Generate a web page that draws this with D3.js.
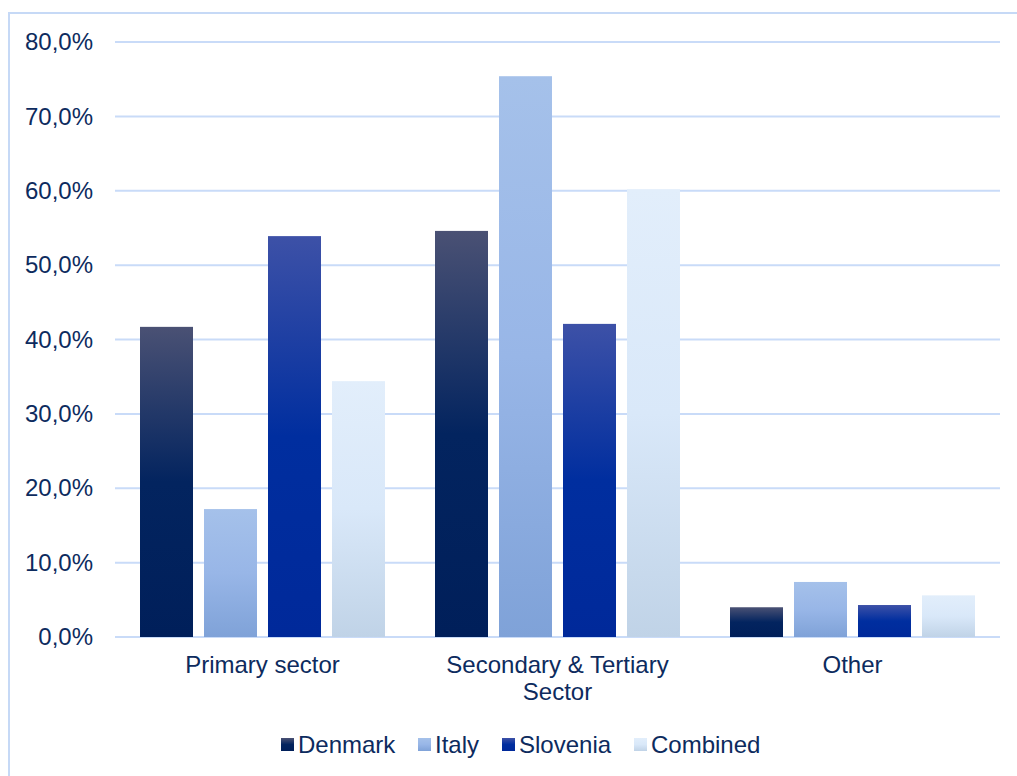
<!DOCTYPE html>
<html>
<head>
<meta charset="utf-8">
<script src="https://cdn.jsdelivr.net/npm/d3@7"></script>
<style>
  body { margin: 0; background: #fff; }
  svg { display: block; font-family: "Liberation Sans", Arial, sans-serif; }
</style>
</head>
<body>
<div id="chart"></div>
<script>
// chart data
var categories = ["Primary sector", "Secondary & Tertiary Sector", "Other"];
var seriesNames = ["Denmark", "Italy", "Slovenia", "Combined"];
var denmark = [41.7, 54.6, 4.0];
var italy = [17.2, 75.4, 7.4];
var slovenia = [53.9, 42.1, 4.3];
var combined = [34.4, 60.2, 5.6];
var yTicks = [0, 10, 20, 30, 40, 50, 60, 70, 80];

var seriesValues = [denmark, italy, slovenia, combined];

// gradient stops for each series (top, middle, bottom)
var gradients = [
  ["#4a5174", "#03245f", "#001f5a"],
  ["#a5c1ea", "#98b6e7", "#7fa2d8"],
  ["#3d51a7", "#002e9f", "#00299a"],
  ["#e2eefb", "#d9e8f9", "#c0d3e7"]
];

var W = 1017, H = 776;
var margin = {top: 42, left: 115, right: 17, bottom: 139};
var width = W - margin.left - margin.right,
    height = H - margin.top - margin.bottom;
var fontSize = "24px";
var textColor = "#0d2b5e";

var svg = d3.select("#chart").append("svg")
    .attr("width", W)
    .attr("height", H);

// gradients
var defs = svg.append("defs");
gradients.forEach(function(g, i) {
  var lg = defs.append("linearGradient")
      .attr("id", "grad" + i)
      .attr("x1", 0).attr("y1", 0).attr("x2", 0).attr("y2", 1);
  lg.append("stop").attr("offset", "0%").attr("stop-color", g[0]);
  lg.append("stop").attr("offset", "50%").attr("stop-color", g[1]);
  lg.append("stop").attr("offset", "100%").attr("stop-color", g[2]);
});

// outer frame
svg.append("rect")
    .attr("x", 9).attr("y", 13)
    .attr("width", W + 10).attr("height", H + 10)
    .attr("fill", "none")
    .attr("stroke", "#c6d9f6")
    .attr("stroke-width", 2);

var g = svg.append("g")
    .attr("transform", "translate(" + margin.left + "," + margin.top + ")");

var x0 = d3.scaleBand()
    .domain(categories)
    .range([0, width]);

// inner scale: 53px bars, 11px gaps
var x1 = d3.scaleBand()
    .domain(seriesNames)
    .range([0, 4 * 64 - 11])
    .paddingInner(11 / 64);

var y = d3.scaleLinear()
    .domain([0, 80])
    .range([height, 0]);

var locale = d3.formatLocale({decimal: ",", thousands: ".", grouping: [3], currency: ["", "€"]});
var fmt = locale.format(".1f");

// gridlines
g.selectAll(".grid")
    .data(yTicks)
  .enter().append("line")
    .attr("x1", 0).attr("x2", width)
    .attr("y1", function(d) { return y(d); })
    .attr("y2", function(d) { return y(d); })
    .attr("stroke", "#c9dbf8")
    .attr("stroke-width", 2);

// y axis labels
var yAxis = g.append("g")
    .call(d3.axisLeft(y).tickValues(yTicks).tickSize(0).tickPadding(22)
      .tickFormat(function(d) { return fmt(d) + "%"; }));
yAxis.select(".domain").remove();
yAxis.selectAll("text")
    .attr("fill", textColor)
    .style("font-size", fontSize)
    .style("font-family", "'Liberation Sans', Arial, sans-serif");

// bars
var groupOffset = (x0.bandwidth() - x1.range()[1]) / 2;
var groups = g.selectAll(".group")
    .data(categories)
  .enter().append("g")
    .attr("transform", function(d) { return "translate(" + (x0(d) + groupOffset) + ",0)"; });

groups.selectAll("rect")
    .data(function(c, ci) {
      return seriesNames.map(function(s, si) { return {s: s, si: si, v: seriesValues[si][ci]}; });
    })
  .enter().append("rect")
    .attr("x", function(d) { return x1(d.s); })
    .attr("width", x1.bandwidth())
    .attr("y", function(d) { return y(d.v); })
    .attr("height", function(d) { return height - y(d.v); })
    .attr("fill", function(d) { return "url(#grad" + d.si + ")"; });

// category labels
var catLines = {
  "Primary sector": ["Primary sector"],
  "Secondary & Tertiary Sector": ["Secondary & Tertiary", "Sector"],
  "Other": ["Other"]
};
categories.forEach(function(c) {
  var cx = x0(c) + x0.bandwidth() / 2;
  var t = g.append("text")
      .attr("x", cx)
      .attr("y", height + 36)
      .attr("text-anchor", "middle")
      .attr("fill", textColor)
      .style("font-size", fontSize);
  catLines[c].forEach(function(line, i) {
    t.append("tspan")
        .attr("x", cx)
        .attr("dy", i === 0 ? 0 : 27)
        .text(line);
  });
});

// legend
var legendX = [281, 418, 502, 634];
var legend = svg.append("g");
seriesNames.forEach(function(s, i) {
  legend.append("rect")
      .attr("x", legendX[i]).attr("y", 738)
      .attr("width", 13).attr("height", 13)
      .attr("fill", "url(#grad" + i + ")");
  legend.append("text")
      .attr("x", legendX[i] + 17).attr("y", 753)
      .attr("fill", textColor)
      .style("font-size", fontSize)
      .text(s);
});
</script>
</body>
</html>
